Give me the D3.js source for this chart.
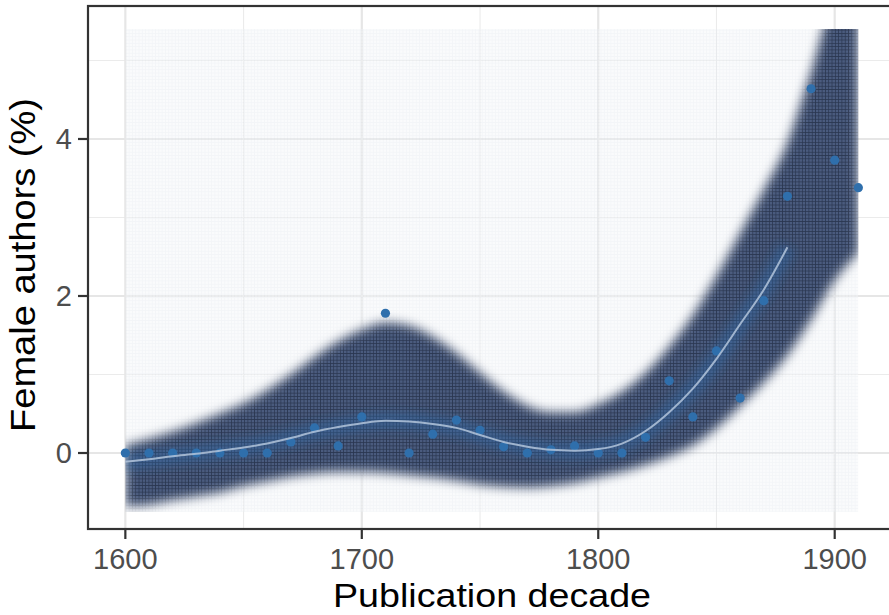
<!DOCTYPE html>
<html><head><meta charset="utf-8">
<script src="https://cdn.jsdelivr.net/npm/d3@7"></script>
<style>html,body{margin:0;padding:0;background:#fff;}svg{display:block;}</style>
</head><body>
<script>
// ---- data ----
const decades = [1600,1610,1620,1630,1640,1650,1660,1670,1680,1690,1700,1710,1720,1730,1740,1750,1760,1770,1780,1790,1800,1810,1820,1830,1840,1850,1860,1870,1880,1890,1900,1910];
const femaleShare = [0,0,0,0,0,0,0,0.14,0.32,0.09,0.46,1.78,0,0.24,0.42,0.29,0.08,0,0.04,0.09,0,0,0.20,0.92,0.46,1.30,0.70,1.94,3.27,4.64,3.73,3.38];
const smoothDecades = [1600,1610,1620,1630,1640,1650,1660,1670,1680,1690,1700,1710,1720,1730,1740,1750,1760,1770,1780,1790,1800,1810,1820,1830,1840,1850,1860,1870,1880];
const smoothFit = [-0.11,-0.08,-0.04,-0.01,0.03,0.07,0.12,0.19,0.27,0.33,0.38,0.41,0.40,0.37,0.32,0.23,0.14,0.08,0.04,0.03,0.05,0.12,0.28,0.52,0.82,1.20,1.64,2.08,2.62];
const bootUpper = [0.10,0.18,0.27,0.38,0.50,0.63,0.80,1.00,1.22,1.42,1.57,1.66,1.62,1.48,1.27,1.02,0.78,0.60,0.52,0.52,0.62,0.78,1.02,1.35,1.75,2.25,2.80,3.35,3.95,4.85,5.70,5.70];
const bootLower = [-0.68,-0.66,-0.60,-0.55,-0.50,-0.42,-0.36,-0.30,-0.26,-0.24,-0.24,-0.25,-0.28,-0.31,-0.35,-0.40,-0.43,-0.44,-0.42,-0.38,-0.31,-0.24,-0.15,-0.04,0.10,0.32,0.60,0.90,1.25,1.70,2.20,2.55];
const xTicks = [1600,1700,1800,1900];
const xMinor = [1650,1750,1850];
const yTicks = [0,2,4];
const yMinor = [1,3,5];
const bootRange = {x0:1600, x1:1910, y0:-0.75, y1:5.4};
const xTitle = "Publication decade";
const yTitle = "Female authors (%)";

// ---- layout ----
const W = 889, H = 615;
const panel = {l:88, t:6, r:895, b:529};
const x = d3.scaleLinear().domain([1584.5,1925.5]).range([panel.l+0.7, panel.r]);
const y = d3.scaleLinear().domain([-0.968,5.694]).range([panel.b, panel.t]);

const svg = d3.select("body").append("svg").attr("width",W).attr("height",H);
const defs = svg.append("defs");

defs.append("clipPath").attr("id","panelClip").append("rect")
  .attr("x",panel.l).attr("y",panel.t).attr("width",panel.r-panel.l).attr("height",panel.b-panel.t);
defs.append("clipPath").attr("id","bootClip").append("rect")
  .attr("x",x(bootRange.x0)).attr("y",y(bootRange.y1))
  .attr("width",x(bootRange.x1)-x(bootRange.x0)).attr("height",y(bootRange.y0)-y(bootRange.y1));

const blur = defs.append("filter").attr("id","blur").attr("x","-20%").attr("y","-20%").attr("width","140%").attr("height","140%");
blur.append("feGaussianBlur").attr("stdDeviation",5.5);
const blur2 = defs.append("filter").attr("id","blur2").attr("x","-20%").attr("y","-20%").attr("width","140%").attr("height","140%");
blur2.append("feGaussianBlur").attr("stdDeviation",4);

// mesh pattern for the dense bootstrap band
const mesh = defs.append("pattern").attr("id","mesh").attr("patternUnits","userSpaceOnUse")
  .attr("width",3.3).attr("height",3.3);
mesh.append("rect").attr("width",3.3).attr("height",3.3).attr("fill","#4a5b7e");
mesh.append("path").attr("d","M0,0.4H3.3M0.4,0V3.3").attr("stroke","#29354f").attr("stroke-width",0.75);

// faint pattern for the background noise
const faint = defs.append("pattern").attr("id","faint").attr("patternUnits","userSpaceOnUse")
  .attr("width",3.3).attr("height",3.3);
faint.append("rect").attr("width",3.3).attr("height",3.3).attr("fill","#f3f5f8");
faint.append("path").attr("d","M0,0.4H3.3M0.4,0V3.3").attr("stroke","#e4e8ee").attr("stroke-width",0.8);

const bandArea = d3.area().curve(d3.curveMonotoneX)
  .x((d,i)=>x(decades[i])).y0((d,i)=>y(bootLower[i])).y1((d,i)=>y(bootUpper[i]));

const mask = defs.append("mask").attr("id","bandMask").attr("maskUnits","userSpaceOnUse")
  .attr("x",0).attr("y",0).attr("width",W).attr("height",H);
mask.append("path").attr("d",bandArea(decades)).attr("fill","#fff").attr("filter","url(#blur)");

// ---- panel background & grid ----
svg.append("rect").attr("x",panel.l).attr("y",panel.t).attr("width",panel.r-panel.l).attr("height",panel.b-panel.t).attr("fill","#fff");
const grid = svg.append("g").attr("clip-path","url(#panelClip)");
grid.selectAll(".xm").data(xMinor).join("line")
  .attr("x1",d=>x(d)).attr("x2",d=>x(d)).attr("y1",panel.t).attr("y2",panel.b)
  .attr("stroke","#ebebeb").attr("stroke-width",1.1);
grid.selectAll(".ym").data(yMinor).join("line")
  .attr("y1",d=>y(d)).attr("y2",d=>y(d)).attr("x1",panel.l).attr("x2",panel.r)
  .attr("stroke","#ebebeb").attr("stroke-width",1.1);
grid.selectAll(".xM").data(xTicks).join("line")
  .attr("x1",d=>x(d)).attr("x2",d=>x(d)).attr("y1",panel.t).attr("y2",panel.b)
  .attr("stroke","#e6e6e6").attr("stroke-width",2.2);
grid.selectAll(".yM").data(yTicks).join("line")
  .attr("y1",d=>y(d)).attr("y2",d=>y(d)).attr("x1",panel.l).attr("x2",panel.r)
  .attr("stroke","#e6e6e6").attr("stroke-width",2.2);

// ---- bootstrap layer ----
const boot = svg.append("g").attr("clip-path","url(#bootClip)");
boot.append("rect").attr("x",x(bootRange.x0)).attr("y",y(bootRange.y1))
  .attr("width",x(bootRange.x1)-x(bootRange.x0)).attr("height",y(bootRange.y0)-y(bootRange.y1))
  .attr("fill","url(#faint)").attr("opacity",0.45);
boot.append("rect").attr("x",0).attr("y",0).attr("width",W).attr("height",H)
  .attr("fill","url(#mesh)").attr("mask","url(#bandMask)");

const line = d3.line().curve(d3.curveMonotoneX).x((d,i)=>x(smoothDecades[i])).y(d=>y(d));
boot.append("path").attr("d",line(smoothFit)).attr("fill","none")
  .attr("stroke","#2d6aa8").attr("stroke-width",18).attr("stroke-opacity",0.42)
  .attr("filter","url(#blur2)");

// ---- points & fitted line ----
const plot = svg.append("g").attr("clip-path","url(#panelClip)");
plot.selectAll("circle").data(femaleShare).join("circle")
  .attr("cx",(d,i)=>x(decades[i])).attr("cy",d=>y(d)).attr("r",4.6)
  .attr("fill","#2f6fac");
plot.append("path").attr("d",line(smoothFit)).attr("fill","none")
  .attr("stroke","#b3c4da").attr("stroke-width",2).attr("stroke-opacity",0.85);

// ---- panel border ----
svg.append("rect").attr("x",panel.l).attr("y",panel.t).attr("width",panel.r-panel.l).attr("height",panel.b-panel.t)
  .attr("fill","none").attr("stroke","#333").attr("stroke-width",2.2);

// ---- axes ----
const font = "'Liberation Sans', Arial, Helvetica, sans-serif";
const xAxis = svg.append("g");
xAxis.selectAll("line").data(xTicks).join("line")
  .attr("x1",d=>x(d)).attr("x2",d=>x(d)).attr("y1",panel.b).attr("y2",panel.b+10)
  .attr("stroke","#333").attr("stroke-width",2.2);
xAxis.selectAll("text").data(xTicks).join("text")
  .attr("x",d=>x(d)).attr("y",569).attr("text-anchor","middle")
  .attr("font-family",font).attr("font-size",29).attr("fill","#4d4d4d").text(d=>d);
const yAxis = svg.append("g");
yAxis.selectAll("line").data(yTicks).join("line")
  .attr("y1",d=>y(d)).attr("y2",d=>y(d)).attr("x1",panel.l-10).attr("x2",panel.l)
  .attr("stroke","#333").attr("stroke-width",2.2);
yAxis.selectAll("text").data(yTicks).join("text")
  .attr("x",72).attr("y",d=>y(d)).attr("dy","0.36em").attr("text-anchor","end")
  .attr("font-family",font).attr("font-size",29).attr("fill","#4d4d4d").text(d=>d);

svg.append("text").attr("x",492).attr("y",607).attr("text-anchor","middle")
  .attr("font-family",font).attr("font-size",34).attr("fill","#000")
  .attr("textLength",318).attr("lengthAdjust","spacingAndGlyphs").text(xTitle);
svg.append("text").attr("transform","translate(35,265) rotate(-90)").attr("text-anchor","middle")
  .attr("font-family",font).attr("font-size",35).attr("fill","#000")
  .attr("textLength",334).attr("lengthAdjust","spacingAndGlyphs").text(yTitle);
</script>
</body></html>
